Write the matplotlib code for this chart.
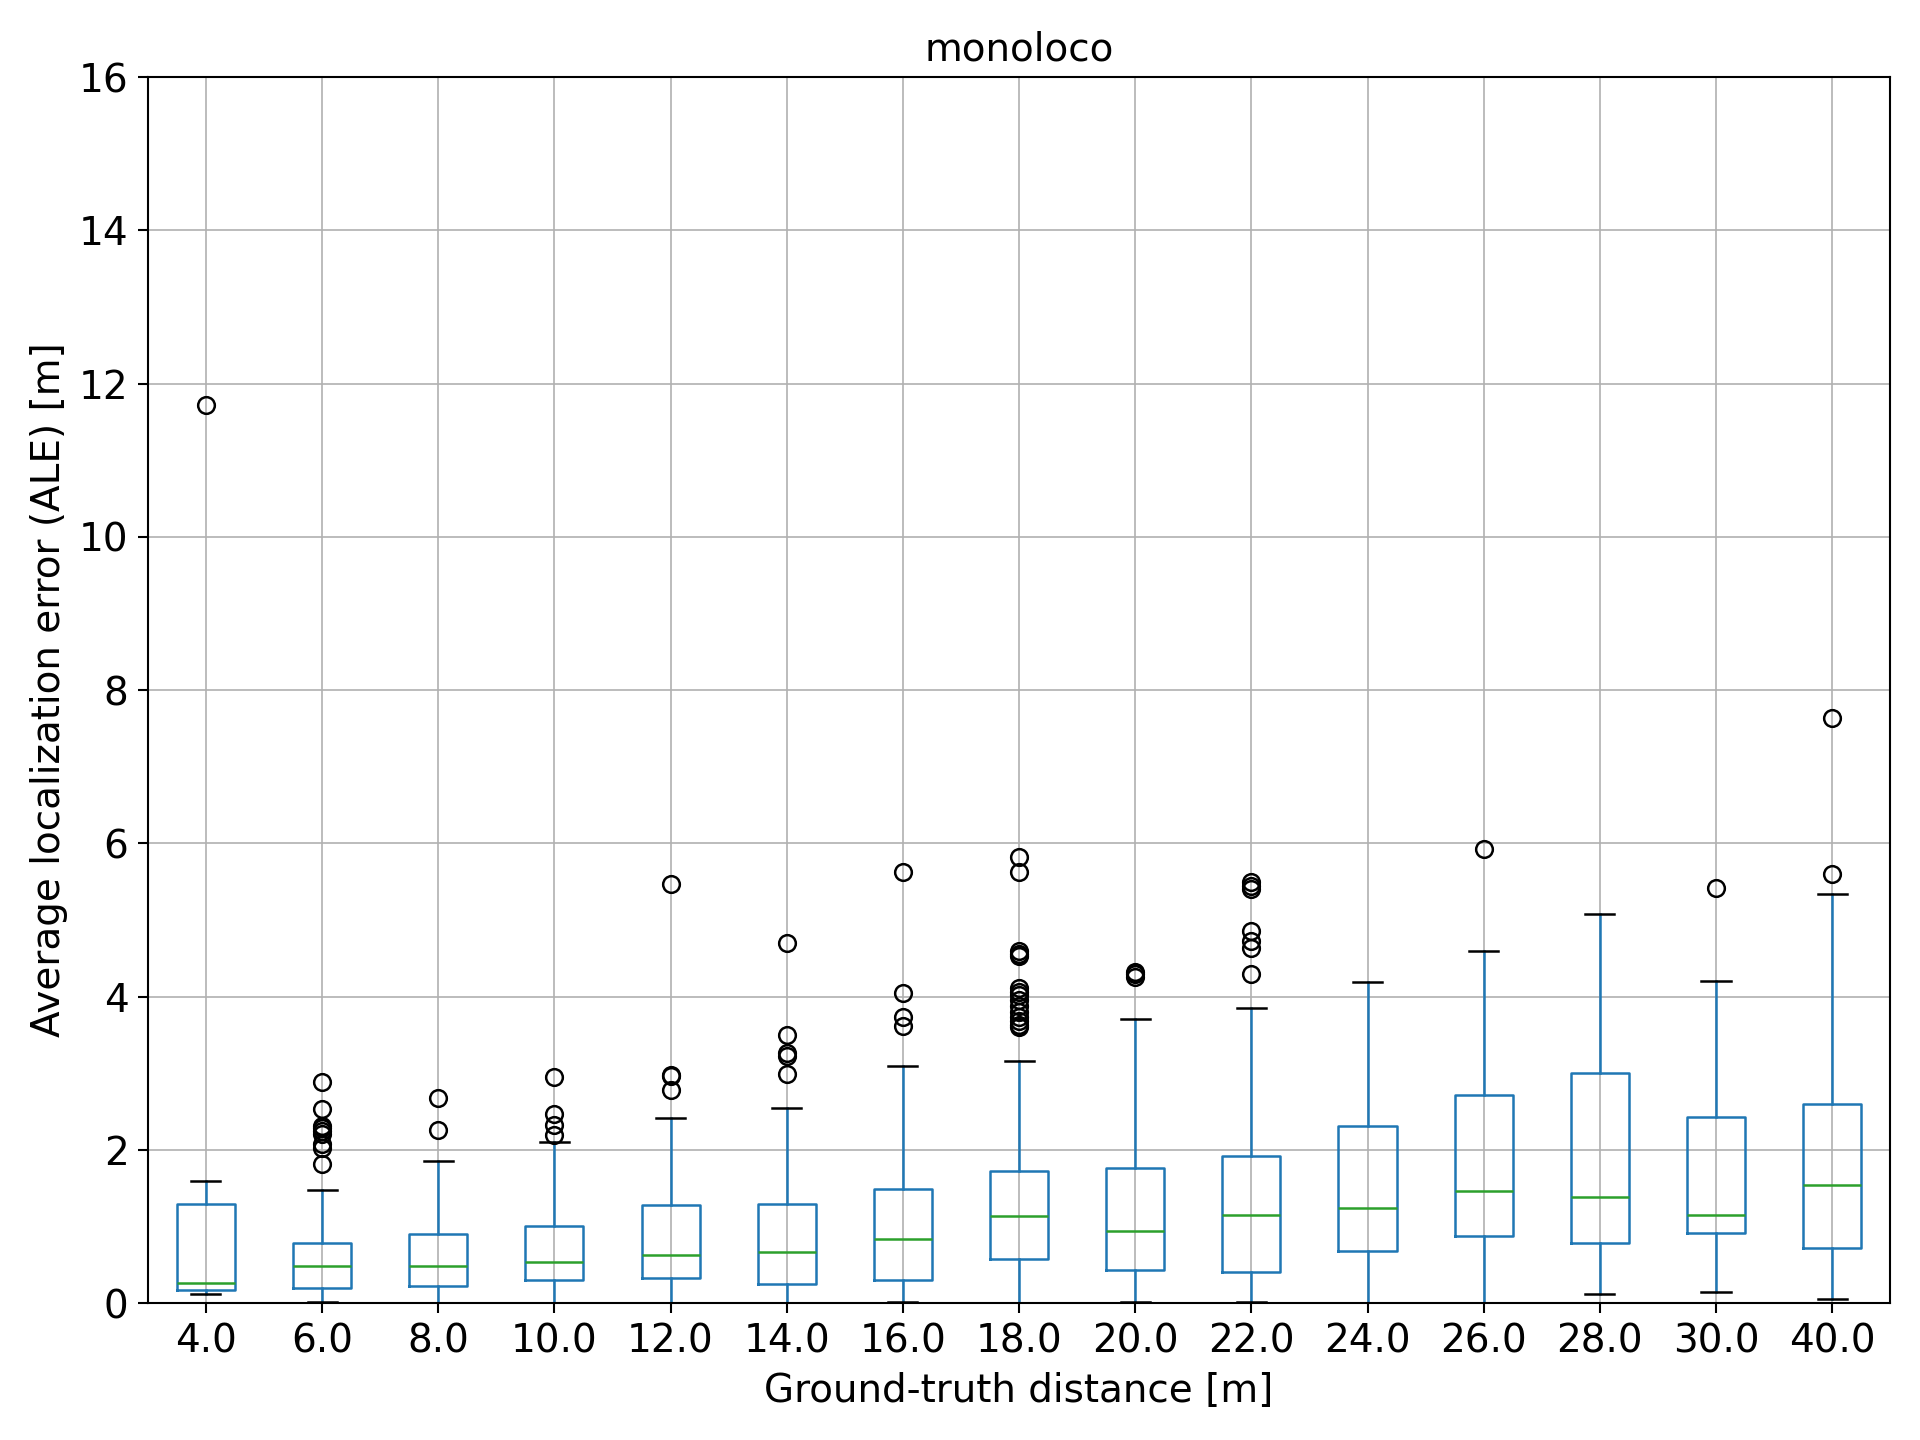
import matplotlib
matplotlib.use("Agg")
import matplotlib.pyplot as plt

labels = ["4.0", "6.0", "8.0", "10.0", "12.0", "14.0", "16.0", "18.0",
          "20.0", "22.0", "24.0", "26.0", "28.0", "30.0", "40.0"]

whislo = [0.12, 0.01, 0.0, 0.0, 0.0, 0.0, 0.02, 0.0, 0.02, 0.01, 0.0, 0.0, 0.12, 0.15, 0.05]
q1 = [0.17, 0.20, 0.23, 0.30, 0.335, 0.25, 0.305, 0.58, 0.435, 0.41, 0.686, 0.88, 0.78, 0.91, 0.725]
med = [0.27, 0.48, 0.49, 0.54, 0.63, 0.67, 0.84, 1.14, 0.945, 1.155, 1.236, 1.47, 1.39, 1.157, 1.54]
q3 = [1.29, 0.78, 0.90, 1.01, 1.28, 1.30, 1.49, 1.72, 1.76, 1.92, 2.31, 2.72, 3.0, 2.43, 2.60]
whishi = [1.59, 1.48, 1.86, 2.11, 2.42, 2.55, 3.10, 3.16, 3.71, 3.85, 4.19, 4.59, 5.08, 4.21, 5.34]

fliers = [
    [11.72],
    [2.89, 2.53, 2.31, 2.28, 2.25, 2.21, 2.08, 2.02, 1.82],
    [2.68, 2.26],
    [2.95, 2.47, 2.32, 2.19],
    [5.47, 2.98, 2.96, 2.78],
    [4.70, 3.50, 3.26, 3.22, 2.99],
    [5.63, 4.05, 3.74, 3.62],
    [5.82, 5.63, 4.60, 4.56, 4.53, 4.11, 4.06, 4.02, 3.95, 3.88, 3.80, 3.73, 3.68, 3.63, 3.60],
    [4.32, 4.29, 4.26],
    [5.50, 5.45, 5.40, 4.86, 4.72, 4.64, 4.29],
    [],
    [5.93],
    [],
    [5.42],
    [7.64, 5.60],
]

stats = []
for i in range(len(labels)):
    stats.append({"label": labels[i], "whislo": whislo[i], "q1": q1[i], "med": med[i],
                  "q3": q3[i], "whishi": whishi[i], "fliers": fliers[i]})

plt.rcParams["font.size"] = 14

fig = plt.figure(figsize=(9.6, 7.2), dpi=200)
ax = fig.add_axes([0.077, 0.095, 0.9075, 0.8515])

lw = 0.9
ax.bxp(stats, widths=0.5,
       boxprops=dict(color="#1f77b4", linewidth=lw),
       whiskerprops=dict(color="#1f77b4", linewidth=lw),
       medianprops=dict(color="#2ca02c", linewidth=lw),
       capprops=dict(color="k", linewidth=lw),
       flierprops=dict(marker="o", markerfacecolor="none", markeredgecolor="k",
                       markersize=6, markeredgewidth=lw))

ax.grid(True, color="#b0b0b0", linewidth=0.6)
ax.set_axisbelow(True)
ax.set_ylim(0, 16)
ax.set_yticks(range(0, 17, 2))
for s in ax.spines.values():
    s.set_linewidth(0.75)
ax.tick_params(width=0.75)

ax.set_title("monoloco", fontsize=14)
ax.set_xlabel("Ground-truth distance [m]")
ax.set_ylabel("Average localization error (ALE) [m]")

fig.savefig("out.png", dpi=200)
